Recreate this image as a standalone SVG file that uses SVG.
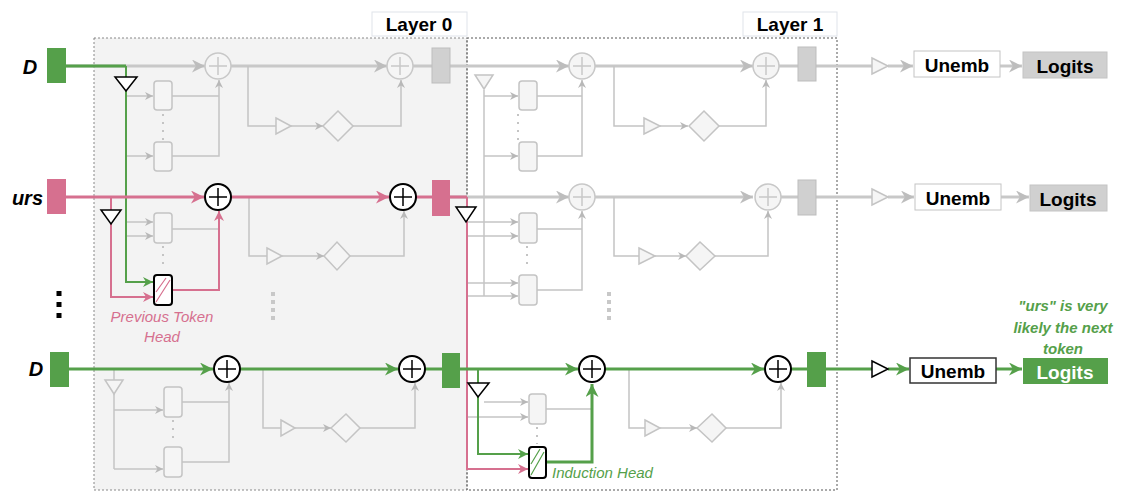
<svg xmlns="http://www.w3.org/2000/svg" width="1122" height="495" viewBox="0 0 1122 495">
<style>
.t{font-family:"Liberation Sans",Arial,sans-serif;font-weight:bold}
.g{stroke:#c4c4c4;stroke-width:1.5;fill:none}
.gr{stroke:#c8c8c8;stroke-width:3;fill:none}
.gn{stroke:#55a04a;stroke-width:3;fill:none}
.gnt{stroke:#55a04a;stroke-width:2;fill:none}
.pk{stroke:#d6708f;stroke-width:3;fill:none}
.pkt{stroke:#d6708f;stroke-width:2;fill:none}
.head{fill:#f5f5f5;stroke:#c4c4c4;stroke-width:1.5}
.tri{fill:#fff;stroke:#000;stroke-width:1.5}
.trig{fill:#f5f5f5;stroke:#c4c4c4;stroke-width:1.5}
.dia{fill:#f5f5f5;stroke:#c4c4c4;stroke-width:1.5}
.pl{fill:#fff;stroke:#000;stroke-width:2}
.plg{fill:#f5f5f5;stroke:#c8c8c8;stroke-width:1.5}
</style>
<defs>
<marker id="ag" viewBox="0 0 10 10" refX="10" refY="5" markerWidth="9" markerHeight="8" markerUnits="userSpaceOnUse" orient="auto"><path d="M0,0 L10,5 L0,10 L3,5 Z" fill="#b8b8b8"/></marker>
<marker id="agb" viewBox="0 0 10 10" refX="10" refY="5" markerWidth="15" markerHeight="13" markerUnits="userSpaceOnUse" orient="auto"><path d="M0,0 L10,5 L0,10 L3,5 Z" fill="#bdbdbd"/></marker>
<marker id="an" viewBox="0 0 10 10" refX="10" refY="5" markerWidth="15" markerHeight="13" markerUnits="userSpaceOnUse" orient="auto"><path d="M0,0 L10,5 L0,10 L3,5 Z" fill="#55a04a"/></marker>
<marker id="ans" viewBox="0 0 10 10" refX="10" refY="5" markerWidth="11" markerHeight="10" markerUnits="userSpaceOnUse" orient="auto"><path d="M0,0 L10,5 L0,10 L3,5 Z" fill="#55a04a"/></marker>
<marker id="ap" viewBox="0 0 10 10" refX="10" refY="5" markerWidth="15" markerHeight="13" markerUnits="userSpaceOnUse" orient="auto"><path d="M0,0 L10,5 L0,10 L3,5 Z" fill="#d6708f"/></marker>
<marker id="aps" viewBox="0 0 10 10" refX="10" refY="5" markerWidth="11" markerHeight="10" markerUnits="userSpaceOnUse" orient="auto"><path d="M0,0 L10,5 L0,10 L3,5 Z" fill="#d6708f"/></marker>
</defs>
<rect width="1122" height="495" fill="#fff"/>
<g id="layer0"><rect x="94" y="38" width="373" height="452" fill="#f3f3f3" stroke="#888" stroke-width="1" stroke-dasharray="2,2"/></g>
<g id="layer1"><rect x="467" y="38" width="370" height="452" fill="none" stroke="#555" stroke-width="1" stroke-dasharray="2,2"/></g>
<g id="layer0-label"><rect x="372" y="12" width="95" height="24" fill="#fff" stroke="#dfe3ea"/><text class="t" x="419" y="31" font-size="19" text-anchor="middle">Layer 0</text></g>
<g id="layer1-label"><rect x="743" y="12" width="94" height="24" fill="#fff" stroke="#dfe3ea"/><text class="t" x="790" y="31" font-size="19" text-anchor="middle">Layer 1</text></g>

<g id="connectors">
<!-- ROW 1 gray -->
<path class="gr" d="M66,66 H205" marker-end="url(#agb)"/>
<path class="gr" d="M231,66 H387" marker-end="url(#agb)"/>
<path class="gr" d="M413,66 H432 M450,66 H569" marker-end="url(#agb)"/>
<path class="gr" d="M595,66 H753" marker-end="url(#agb)"/>
<path class="gr" d="M779,66 H798 M816,66 H872"/>
<path class="gr" d="M888,66 H913" marker-end="url(#agb)"/>
<path class="gr" d="M1000,66 H1022" marker-end="url(#agb)"/>
<path class="g" d="M126,96 H153" marker-end="url(#ag)"/>
<path class="g" d="M126,156 H153" marker-end="url(#ag)"/>
<path class="g" d="M172,96 H219 M172,156 H219 V80" marker-end="url(#ag)"/>
<path class="g" d="M248,66 V126 H276 M291,126 H323" marker-end="url(#ag)"/>
<path class="g" d="M353,126 H401 V80" marker-end="url(#ag)"/>
<path class="g" d="M484,90 V296"/>
<path class="g" d="M484,96 H518" marker-end="url(#ag)"/>
<path class="g" d="M484,156 H518" marker-end="url(#ag)"/>
<path class="g" d="M537,96 H582 M537,156 H582 V80" marker-end="url(#ag)"/>
<path class="g" d="M614,66 V126 H644 M660,126 H688" marker-end="url(#ag)"/>
<path class="g" d="M719,126 H766 V80" marker-end="url(#ag)"/>
<!-- ROW 2 -->
<path class="g" d="M127,222 H153" marker-end="url(#ag)"/>
<path class="g" d="M127,236 H153" marker-end="url(#ag)"/>
<path class="g" d="M172,229 H219"/>
<path class="g" d="M249,197 V256 H267 M282,256 H324" marker-end="url(#ag)"/>
<path class="g" d="M350,256 H404 V211" marker-end="url(#ag)"/>
<path class="gr" d="M450,197 H569" marker-end="url(#agb)"/>
<path class="gr" d="M595,197 H753" marker-end="url(#agb)"/>
<path class="gr" d="M779,197 H798 M816,197 H872"/>
<path class="gr" d="M888,197 H914" marker-end="url(#agb)"/>
<path class="gr" d="M1001,197 H1029" marker-end="url(#agb)"/>
<path class="g" d="M467,222 H518" marker-end="url(#ag)"/>
<path class="g" d="M467,236 H518" marker-end="url(#ag)"/>
<path class="g" d="M467,283 H518" marker-end="url(#ag)"/>
<path class="g" d="M467,296 H518" marker-end="url(#ag)"/>
<path class="g" d="M537,229 H582 M537,290 H582 V211" marker-end="url(#ag)"/>
<path class="g" d="M614,197 V256 H639 M655,256 H686" marker-end="url(#ag)"/>
<path class="g" d="M715,256 H768 V211" marker-end="url(#ag)"/>
<!-- ROW 3 gray -->
<path class="g" d="M114,369 V469"/>
<path class="g" d="M114,410 H163" marker-end="url(#ag)"/>
<path class="g" d="M114,469 H163" marker-end="url(#ag)"/>
<path class="g" d="M182,402 H229 M182,462 H229 V383" marker-end="url(#ag)"/>
<path class="g" d="M263,369 V428 H281 M295,428 H331" marker-end="url(#ag)"/>
<path class="g" d="M360,428 H415 V383" marker-end="url(#ag)"/>
<path class="g" d="M484,402 H528" marker-end="url(#ag)"/>
<path class="g" d="M467,417 H528" marker-end="url(#ag)"/>
<path class="g" d="M546,409 H592"/>
<path class="g" d="M629,369 V428 H645 M660,428 H697" marker-end="url(#ag)"/>
<path class="g" d="M726,428 H781 V383" marker-end="url(#ag)"/>
<!-- green row1 -->
<path class="gn" d="M66,66 H126"/>
<path class="gnt" d="M126,66 V282 H153" marker-end="url(#ans)"/>
<!-- pink row2 -->
<path class="pk" d="M66,197 H204" marker-end="url(#ap)"/>
<path class="pk" d="M231,197 H389" marker-end="url(#ap)"/>
<path class="pk" d="M416,197 H432 M450,197 H467"/>
<path class="pkt" d="M111,197 V297 H153" marker-end="url(#aps)"/>
<path class="pkt" d="M172,290 H219 V211" marker-end="url(#aps)"/>
<path class="pkt" d="M467,197 V469 H528" marker-end="url(#aps)"/>
<!-- green row3 -->
<path class="gn" d="M69,369 H213" marker-end="url(#an)"/>
<path class="gn" d="M240,369 H398" marker-end="url(#an)"/>
<path class="gn" d="M425,369 H442 M460,369 H578" marker-end="url(#an)"/>
<path class="gn" d="M605,369 H764" marker-end="url(#an)"/>
<path class="gn" d="M791,369 H807 M826,369 H872"/>
<path class="gn" d="M888,369 H909" marker-end="url(#an)"/>
<path class="gn" d="M996,369 H1022" marker-end="url(#an)"/>
<path class="gnt" d="M478,369 V454 H528" marker-end="url(#ans)"/>
<path class="gn" d="M546,462 H592 V384" marker-end="url(#an)"/>
<!-- dots -->
<path d="M163,114 V140 M518,114 V140 M163,246 V270 M527,246 V270 M173,420 V444 M537,427 V444" stroke="#c4c4c4" stroke-width="2" stroke-dasharray="2,6"/>
<path d="M273,292 V322 M609,292 V322" stroke="#c8c8c8" stroke-width="4" stroke-dasharray="4,4"/>
<path d="M59,291 V322" stroke="#000" stroke-width="5" stroke-dasharray="5,6"/>
</g>

<g id="nodes">
<g id="D-top"><text class="t" x="30" y="74" font-size="20" font-style="italic" text-anchor="middle">D</text><rect x="47" y="48" width="19" height="35" fill="#55a04a"/></g>
<g id="urs"><text class="t" x="43" y="205" font-size="20" font-style="italic" text-anchor="end">urs</text><rect x="47" y="179" width="19" height="35" fill="#d6708f"/></g>
<g id="D-bot"><text class="t" x="36" y="376" font-size="20" font-style="italic" text-anchor="middle">D</text><rect x="50" y="352" width="19" height="35" fill="#55a04a"/></g>

<!-- triangles -->
<polygon class="tri" points="115,77 137,77 126,91"/>
<polygon class="tri" points="101,210 121,210 111,224"/>
<polygon class="trig" points="105,380 123,380 114,394"/>
<polygon class="trig" points="475,75 493,75 484,89"/>
<polygon class="tri" points="456,207 476,207 466,222"/>
<polygon class="tri" points="468,383 489,383 478,397"/>
<polygon class="trig" points="276,118 291,126 276,134"/>
<polygon class="trig" points="267,248 282,256 267,264"/>
<polygon class="trig" points="281,420 295,428 281,436"/>
<polygon class="trig" points="644,118 660,126 644,134"/>
<polygon class="trig" points="639,248 655,256 639,264"/>
<polygon class="trig" points="645,420 660,428 645,436"/>
<polygon class="trig" points="872,58 888,66 872,74"/>
<polygon class="trig" points="872,189 888,197 872,205"/>
<polygon class="tri" points="872,361 888,369 872,377"/>
<!-- diamonds -->
<polygon class="dia" points="323,126 338,111 353,126 338,141"/>
<polygon class="dia" points="324,256 337,242 350,256 337,270"/>
<polygon class="dia" points="331,428 346,414 360,428 346,442"/>
<polygon class="dia" points="689,126 704,111 719,126 704,141"/>
<polygon class="dia" points="686,256 700,242 715,256 700,270"/>
<polygon class="dia" points="697,428 712,414 726,428 712,442"/>
<!-- heads -->
<rect class="head" x="154" y="81" width="18" height="29" rx="3"/>
<rect class="head" x="154" y="142" width="18" height="29" rx="3"/>
<rect class="head" x="154" y="213" width="18" height="30" rx="3"/>
<rect class="head" x="164" y="387" width="18" height="30" rx="3"/>
<rect class="head" x="164" y="447" width="18" height="30" rx="3"/>
<rect class="head" x="519" y="81" width="18" height="29" rx="3"/>
<rect class="head" x="519" y="142" width="18" height="29" rx="3"/>
<rect class="head" x="519" y="213" width="18" height="30" rx="3"/>
<rect class="head" x="519" y="275" width="18" height="30" rx="3"/>
<rect class="head" x="529" y="394" width="17" height="30" rx="3"/>
<g id="prev-token-head"><rect x="154" y="275" width="18" height="30" rx="3" fill="#fff" stroke="#000" stroke-width="2"/><path d="M156,302 L170,280 M156,292 L166,278" stroke="#d6708f" stroke-width="1.2"/>
<text x="162" y="322" font-family="Liberation Sans,Arial,sans-serif" font-style="italic" font-size="15" fill="#d6708f" text-anchor="middle">Previous Token</text>
<text x="162" y="342" font-family="Liberation Sans,Arial,sans-serif" font-style="italic" font-size="15" fill="#d6708f" text-anchor="middle">Head</text></g>
<g id="induction-head"><rect x="529" y="447" width="17" height="31" rx="3" fill="#fff" stroke="#000" stroke-width="2"/><path d="M531,475 L544,452 M531,464 L540,449" stroke="#55a04a" stroke-width="1.2"/>
<text x="552" y="478" font-family="Liberation Sans,Arial,sans-serif" font-style="italic" font-size="15" fill="#55a04a">Induction Head</text></g>
<!-- plus nodes -->
<g><circle class="plg" cx="218" cy="66" r="13"/><path d="M209,66 H227 M218,57 V75" stroke="#c8c8c8" stroke-width="1.5"/></g>
<g><circle class="plg" cx="400" cy="66" r="13"/><path d="M391,66 H409 M400,57 V75" stroke="#c8c8c8" stroke-width="1.5"/></g>
<g><circle class="plg" cx="582" cy="66" r="13"/><path d="M573,66 H591 M582,57 V75" stroke="#c8c8c8" stroke-width="1.5"/></g>
<g><circle class="plg" cx="766" cy="66" r="13"/><path d="M757,66 H775 M766,57 V75" stroke="#c8c8c8" stroke-width="1.5"/></g>
<g><circle class="pl" cx="218" cy="197" r="13"/><path d="M209,197 H227 M218,188 V206" stroke="#000" stroke-width="1.5"/></g>
<g><circle class="pl" cx="403" cy="197" r="13"/><path d="M394,197 H412 M403,188 V206" stroke="#000" stroke-width="1.5"/></g>
<g><circle class="plg" cx="582" cy="197" r="13"/><path d="M573,197 H591 M582,188 V206" stroke="#c8c8c8" stroke-width="1.5"/></g>
<g><circle class="plg" cx="768" cy="197" r="13"/><path d="M759,197 H777 M768,188 V206" stroke="#c8c8c8" stroke-width="1.5"/></g>
<g><circle class="pl" cx="227" cy="369" r="13"/><path d="M218,369 H236 M227,360 V378" stroke="#000" stroke-width="1.5"/></g>
<g><circle class="pl" cx="412" cy="369" r="13"/><path d="M403,369 H421 M412,360 V378" stroke="#000" stroke-width="1.5"/></g>
<g><circle class="pl" cx="592" cy="369" r="13"/><path d="M583,369 H601 M592,360 V378" stroke="#000" stroke-width="1.5"/></g>
<g><circle class="pl" cx="778" cy="369" r="13"/><path d="M769,369 H787 M778,360 V378" stroke="#000" stroke-width="1.5"/></g>
<!-- residual blocks -->
<rect x="432" y="48" width="18" height="35" fill="#d0d0d0" stroke="#bdbdbd"/>
<rect x="798" y="47" width="18" height="34" fill="#d0d0d0" stroke="#bdbdbd"/>
<rect x="432" y="180" width="18" height="36" fill="#d6708f"/>
<rect x="798" y="180" width="18" height="35" fill="#d0d0d0" stroke="#bdbdbd"/>
<rect x="442" y="353" width="18" height="35" fill="#55a04a"/>
<rect x="807" y="352" width="19" height="35" fill="#55a04a"/>
<!-- output -->
<g id="unemb1"><rect x="914" y="51" width="86" height="26" fill="#fff" stroke="#c4c4c4"/><text class="t" x="957" y="72" font-size="19" text-anchor="middle">Unemb</text></g>
<g id="logits1"><rect x="1023" y="52" width="84" height="26" fill="#d0d0d0" stroke="#c4c4c4"/><text class="t" x="1065" y="73" font-size="19" text-anchor="middle">Logits</text></g>
<g id="unemb2"><rect x="915" y="184" width="86" height="26" fill="#fff" stroke="#c4c4c4"/><text class="t" x="958" y="205" font-size="19" text-anchor="middle">Unemb</text></g>
<g id="logits2"><rect x="1030" y="185" width="77" height="26" fill="#d0d0d0" stroke="#c4c4c4"/><text class="t" x="1068" y="206" font-size="19" text-anchor="middle">Logits</text></g>
<g id="unemb3"><rect x="910" y="358" width="86" height="25" fill="#fff" stroke="#333" stroke-width="1.5"/><text class="t" x="953" y="378" font-size="19" text-anchor="middle">Unemb</text></g>
<g id="logits3"><rect x="1023" y="358" width="85" height="26" fill="#55a04a"/><text class="t" x="1065" y="379" font-size="19" fill="#fff" text-anchor="middle">Logits</text></g>
<g id="annotation" font-family="Liberation Sans,Arial,sans-serif" font-weight="bold" font-style="italic" font-size="15" fill="#55a04a" text-anchor="middle">
<text x="1063" y="311">"urs" is very</text><text x="1063" y="333">likely the next</text><text x="1063" y="354">token</text></g>
</g>
</svg>
